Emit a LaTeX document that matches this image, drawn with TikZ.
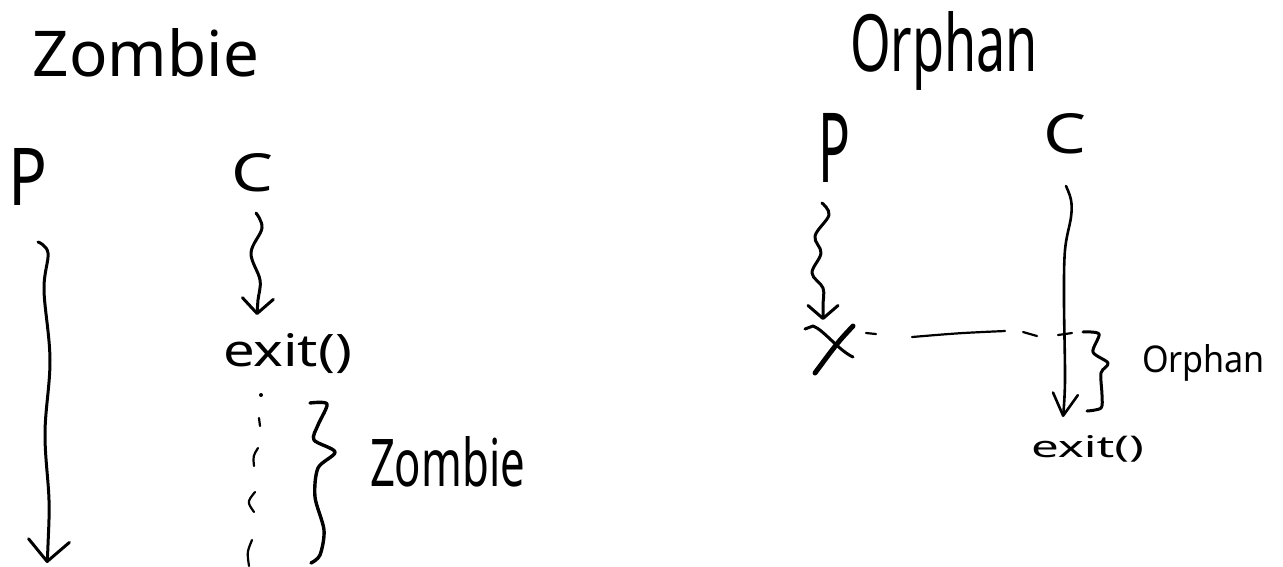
\documentclass[tikz,border=0pt]{standalone}
\usepackage{graphicx}
\usepackage{fontspec}
\setmainfont{Noto Sans}
\usetikzlibrary{arrows.meta}

% text squeezed into a given width and height (above the baseline)
\newcommand{\fitbox}[3]{\resizebox{#1pt}{#2pt}{#3}}

\tikzset{
  pen/.style={line width=3pt, line cap=round, line join=round},
  thinpen/.style={line width=2.2pt, line cap=round, line join=round},
  word/.style={inner sep=0pt, outer sep=0pt, anchor=base west},
  barb/.style 2 args={-{Straight Barb[length=#1pt, width=#2pt, line cap=round, line join=round]}}
}

\begin{document}
\begin{tikzpicture}[x=1pt, y=-1pt]
\useasboundingbox (0,0) rectangle (1283,566);

% ---------------- Zombie ----------------
\node[word] (tZombie) at (33,76)  {\fitbox{226}{48}{Zombie}};
\node[word] (pL)      at (9,205)  {\fitbox{39}{57}{P}};
\node[word] (cL)      at (231,191) {\fitbox{42}{38}{C}};
\node[word] (exitL)   at (223,366) {\fitbox{129}{33}{exit()}};
\node[word] (lblZ)    at (370,486) {\fitbox{155}{50}{Zombie}};

\coordinate (pLstart) at (38,242);
\coordinate (pLend)   at (47,563);
\coordinate (cLstart) at (256,213);
\coordinate (cLend)   at (257,315);

% parent keeps running
\draw[pen, barb={21}{41}] plot[smooth, tension=0.6] coordinates
  {(pLstart) (48,253) (44,290) (50,360) (45,433) (49,500) (48,545) (pLend)};

% child runs until exit()
\draw[pen, barb={15}{31}] plot[smooth, tension=0.6] coordinates
  {(cLstart) (262,228) (251,253) (260,280) (258,300) (cLend)};

% the zombie's remaining trace below exit()
\fill (261,395) circle (2pt);
\draw[thinpen] (259,418) -- (260,426);
\draw[thinpen] (258,448) .. controls (253,456) .. (254,466);
\draw[thinpen] (255,492) .. controls (247,502) .. (254,512);
\draw[thinpen] (252,540) .. controls (247,552) .. (249,566);

% brace for the zombie period
\draw[pen, line width=3.4pt] plot[smooth, tension=0.5] coordinates
  {(310,403) (327,404) (318,425) (314,440) (335,452) (318,468) (315,497) (324,530) (320,555) (311,563)};

% ---------------- Orphan ----------------
\node[word] (tOrphan) at (850,71)   {\fitbox{188}{60}{Orphan}};
\node[word] (pR)      at (818,182)  {\fitbox{32}{69}{P}};
\node[word] (cR)      at (1043,153) {\fitbox{43}{40}{C}};
\node[word] (lblO)    at (1142,372) {\fitbox{123}{28}{Orphan}};
\node[word] (exitR)   at (1031,457) {\fitbox{113}{22}{exit()}};

\coordinate (pRstart) at (822,203);
\coordinate (pRend)   at (823,320);
\coordinate (cRstart) at (1066,186);
\coordinate (cRend)   at (1063,417);

% parent ends early
\draw[pen, barb={13}{30}] plot[smooth, tension=0.6] coordinates
  {(pRstart) (829,215) (815,236) (821,253) (812,273) (823,288) (823,305) (pRend)};

% parent killed: cross
\draw[pen] (805,329) -- (813,326) .. controls (824,330) and (838,350) .. (853,357);
\draw[pen, line width=5pt] (853,326) .. controls (838,342) .. (815,373);

% child keeps running to exit()
\draw[pen, line width=2.6pt, barb={22}{25}] plot[smooth, tension=0.6] coordinates
  {(cRstart) (1071,200) (1071,217) (1065,250) (1064,300) (1065,380) (cRend)};

% dashed link from the cross to the child's line
\draw[thinpen] (866,333) -- (876,334);
\draw[thinpen] (912,337) .. controls (960,333) .. (1005,331);
\draw[thinpen] (1023,332) -- (1037,336);
\draw[thinpen] (1058,335) -- (1072,333);

% brace for the orphan period
\draw[pen] plot[smooth, tension=0.5] coordinates
  {(1083,332) (1099,334) (1093,352) (1108,363) (1101,373) (1102,395) (1101,408) (1087,411)};

\end{tikzpicture}
\end{document}
